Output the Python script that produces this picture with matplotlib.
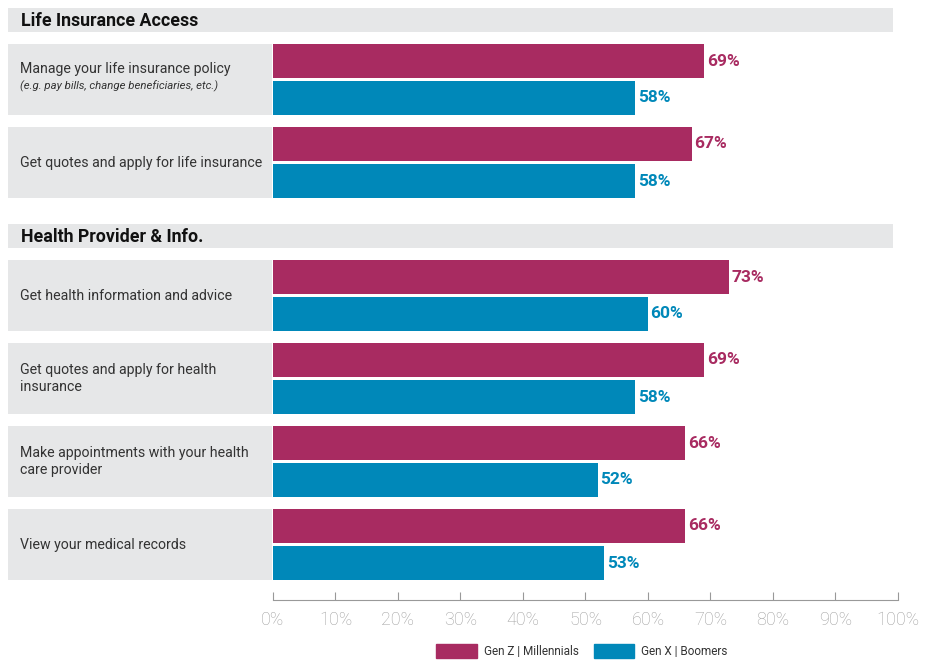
import matplotlib
matplotlib.use('Agg')
import matplotlib.pyplot as plt
from matplotlib.patches import Rectangle, Patch

# data
sections = ['Life Insurance Access', 'Health Provider & Info.']
section_sizes = [2, 4]
categories = ['Manage your life insurance policy',
              'Get quotes and apply for life insurance',
              'Get health information and advice',
              'Get quotes and apply for health\ninsurance',
              'Make appointments with your health\ncare provider',
              'View your medical records']
notes = ['(e.g. pay bills, change beneficiaries, etc.)', '', '', '', '', '']
gen_z = [69, 67, 73, 69, 66, 66]
gen_x = [58, 58, 60, 58, 52, 53]
series_names = ['Gen Z | Millennials', 'Gen X | Boomers']
ticks = list(range(0, 101, 10))

MAGENTA = '#A82B61'
BLUE = '#0088B9'
GRAY = '#E6E7E8'
TEXT = '#333333'

plt.rcParams['font.family'] = ['Roboto', 'DejaVu Sans']

W, H = 928, 661
fig = plt.figure(figsize=(W / 100, H / 100), dpi=100)

# layout in pixels: bars start at x=273 (0%) and reach x=898 (100%)
x0_px, x100_px, left_px = 273, 898, 8
ppp = (x100_px - x0_px) / 100.0
axis_px = 600
ax = fig.add_axes([left_px / W, (H - axis_px) / H,
                   (x100_px - left_px) / W, axis_px / H])
xmin = -(x0_px - left_px) / ppp
ax.set_xlim(xmin, 100)
ax.set_ylim(axis_px, 0)

def px(x):
    return (x - x0_px) / ppp

header_h, row_h, bar_h, gap = 24, 71, 34, 3
y = 8
i = 0
for s, n in zip(sections, section_sizes):
    ax.add_patch(Rectangle((xmin, y), px(893) - xmin, header_h, color=GRAY, lw=0))
    ax.text(px(21), y + header_h / 2 + 1, s, fontsize=12.8, fontweight='bold',
            color='#111111', va='center', ha='left')
    y += header_h + 12
    for k in range(n):
        ax.add_patch(Rectangle((xmin, y), px(272) - xmin, row_h, color=GRAY, lw=0))
        cy = y + row_h / 2
        if notes[i]:
            ax.text(px(20), cy - 10, categories[i], fontsize=10.2, color=TEXT,
                    va='center', ha='left')
            ax.text(px(20), cy + 7, notes[i], fontsize=8.2, style='italic',
                    color=TEXT, va='center', ha='left')
        else:
            ax.text(px(20), cy, categories[i], fontsize=10.2, color=TEXT,
                    va='center', ha='left', linespacing=1.35)
        yz = y + bar_h / 2
        yx = y + bar_h + gap + bar_h / 2
        ax.barh(yz, gen_z[i], height=bar_h, color=MAGENTA, left=0)
        ax.barh(yx, gen_x[i], height=bar_h, color=BLUE, left=0)
        ax.text(gen_z[i] + 0.4, yz, '%d%%' % gen_z[i], color=MAGENTA,
                fontsize=12.5, fontweight='bold', va='center', ha='left')
        ax.text(gen_x[i] + 0.4, yx, '%d%%' % gen_x[i], color=BLUE,
                fontsize=12.5, fontweight='bold', va='center', ha='left')
        y += row_h + 12
        i += 1
    y += 14

# x axis
for side in ['top', 'right', 'left']:
    ax.spines[side].set_visible(False)
ax.spines['bottom'].set_bounds(0, 100)
ax.spines['bottom'].set_color('#999999')
ax.set_yticks([])
ax.set_xticks(ticks)
ax.set_xticklabels(['%d%%' % t for t in ticks])
ax.tick_params(axis='x', direction='in', length=6, color='#999999',
               labelcolor='#A0A0A0', labelsize=13, pad=8)
for lab in ax.get_xticklabels():
    lab.set_fontweight('light')

handles = [Patch(color=MAGENTA), Patch(color=BLUE)]
fig.legend(handles, series_names, loc='center', ncol=2, frameon=False,
           bbox_to_anchor=(582 / W, 1 - 651 / H), fontsize=8.5,
           handlelength=3.4, handleheight=1.5, columnspacing=1.3,
           handletextpad=0.6, labelcolor=TEXT)

fig.savefig('out.png', dpi=100)
